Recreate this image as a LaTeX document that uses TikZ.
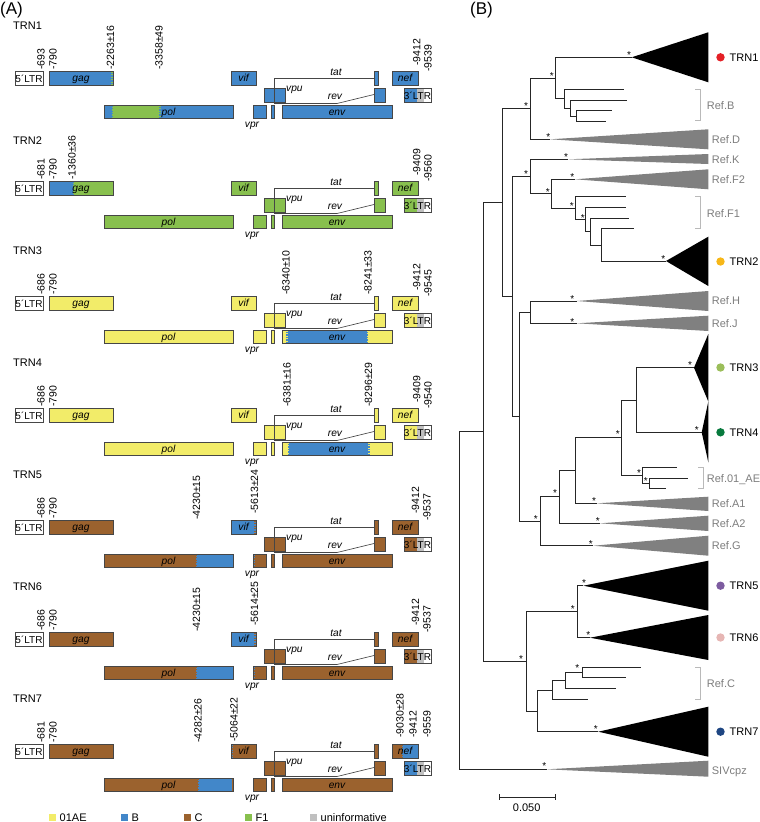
\documentclass[tikz,border=0pt]{standalone}
\usepackage{fontspec}
\setmainfont{Liberation Sans}
\usetikzlibrary{calc}
\definecolor{cY}{RGB}{242,236,105}
\definecolor{cB}{RGB}{66,135,201}
\definecolor{cC}{RGB}{155,98,46}
\definecolor{cF}{RGB}{136,192,78}
\definecolor{cU}{RGB}{192,192,192}
\definecolor{bd}{RGB}{70,70,70}
\definecolor{rg}{RGB}{125,125,125}
\definecolor{tg}{RGB}{128,128,128}
\definecolor{brk}{RGB}{185,185,185}
\definecolor{d1}{RGB}{228,32,38}
\definecolor{d2}{RGB}{247,183,24}
\definecolor{d3}{RGB}{155,190,90}
\definecolor{d4}{RGB}{8,122,62}
\definecolor{d5}{RGB}{125,92,160}
\definecolor{d6}{RGB}{230,182,180}
\definecolor{d7}{RGB}{30,70,130}
\tikzset{
 bx/.style={draw=bd, line width=0.65pt},
 ln/.style={draw=bd, line width=0.65pt},
 gl/.style={font=\fontsize{10.2}{11}\selectfont\itshape, inner sep=0, anchor=base},
 lt/.style={font=\fontsize{10}{11}\selectfont, inner sep=0, anchor=base},
 numlab/.style={rotate=90, anchor=west, inner sep=0, font=\fontsize{10.5}{11}\selectfont},
 trn/.style={font=\fontsize{11}{12}\selectfont, inner sep=0, anchor=base west},
 br/.style={draw=black!85, line width=0.75pt},
 reftxt/.style={font=\fontsize{11}{12}\selectfont, text=rg, inner sep=0, anchor=base west},
 trntxt/.style={font=\fontsize{11}{12}\selectfont, inner sep=0, anchor=base west},
 star/.style={font=\fontsize{10}{10}\selectfont, inner sep=0},
 brack/.style={draw=brk, line width=0.8pt},
 lg/.style={font=\fontsize{11}{12}\selectfont, inner sep=0, anchor=base west}
}
\newcommand\gbase[1]{%
 \fill[#1] (49,0) rectangle (113,14);
 \fill[#1] (104,34) rectangle (233,47);
 \fill[#1] (231,0) rectangle (256,14);
 \fill[#1] (253,34) rectangle (266,47);
 \fill[#1] (271,34) rectangle (274,47);
 \fill[#1] (264,17) rectangle (285,31);
 \fill[#1] (282,34) rectangle (392,47);
 \fill[#1] (374,0) rectangle (378,14);
 \fill[#1] (374,17) rectangle (385,31);
 \fill[#1] (392,0) rectangle (418,14);
 \fill[#1] (404,17) rectangle (417,31);
 \fill[cU] (417,17) rectangle (424,31);}
\newcommand\gframe[1]{%
 \draw[bx] (15,0) rectangle (43,14);
 \draw[bx] (49,0) rectangle (113,14);
 \draw[bx] (104,34) rectangle (233,47);
 \draw[bx] (231,0) rectangle (256,14);
 \draw[bx] (253,34) rectangle (266,47);
 \draw[bx] (271,34) rectangle (274,47);
 \draw[bx] (264,17) rectangle (274,31);
 \draw[bx] (274,17) rectangle (285,31);
 \draw[bx] (282,34) rectangle (392,47);
 \draw[bx] (374,0) rectangle (378,14);
 \draw[bx] (374,17) rectangle (385,31);
 \draw[bx] (392,0) rectangle (418,14);
 \draw[bx] (404,17) rectangle (431,31);
 \draw[ln] (274,17) -- (274,7) -- (374,7);
 \draw[ln] (274,32.5) -- (337,32.5) -- (374,23.5);
 \node[lt] (#1l5) at (29,11.3) {5´LTR};
 \node[lt] (#1l3) at (417.5,28.2) {3´LTR};
 \node[gl] (#1gag) at (81,10.3) {gag};
 \node[gl] (#1pol) at (168.5,44.3) {pol};
 \node[gl] (#1vif) at (243.5,10.8) {vif};
 \node[gl] (#1env) at (337,44.3) {env};
 \node[gl] (#1nef) at (405,10.8) {nef};
 \node[gl] (#1tat) at (336,4.6) {tat};
 \node[gl] (#1rev) at (335,28.6) {rev};
 \node[gl, anchor=base west] (#1vpu) at (286,20.3) {vpu};
 \node[gl] (#1vpr) at (252,56.3) {vpr};}
\newcommand\bnd[4]{\draw[#4, line width=1.5pt, dash pattern=on 1.2pt off 1.3pt] (#1,#2) -- (#1,#3);}
\newcommand\nl[3]{\node[numlab] at (#1,#2) {-#3};}
\newcommand\tri[4]{\fill[#1] (#2) -- (708.3,#3) -- (708.3,#4) -- cycle;}
\begin{document}
\begin{tikzpicture}[x=1pt,y=-1pt]
\useasboundingbox (0,0) rectangle (760,822);
\node[font=\fontsize{17}{18}\selectfont, inner sep=0, anchor=base west] (pA) at (0,14.7) {(A)};
\node[font=\fontsize{17}{18}\selectfont, inner sep=0, anchor=base west] (pB) at (470,14) {(B)};
% ---------- TRN1
\begin{scope}[shift={(0,71)}]
 \gbase{cB}
 \fill[cF] (111.5,34) rectangle (159,47);
 \bnd{112.2}{0.5}{13.5}{cF}
 \bnd{112.2}{34.5}{46.5}{cB}
 \bnd{159.8}{34.5}{46.5}{cF}
 \gframe{a}
 \node[trn] (t1) at (13,-41.7) {TRN1};
 \nl{41}{-1}{693} \nl{53}{-1}{790} \nl{110.5}{-1}{2263±16} \nl{159}{-1}{3358±49}
 \nl{416.7}{-5}{9412} \nl{428}{1}{9539}
\end{scope}
% ---------- TRN2
\begin{scope}[shift={(0,181)}]
 \gbase{cF}
 \fill[cB] (49,0) rectangle (73,14);
 \bnd{73.6}{0.5}{13.5}{cB}
 \gframe{b}
 \node[trn] (t2) at (13,-37) {TRN2};
 \nl{41}{-1}{681} \nl{53}{-1}{790} \nl{72}{-1}{1360±36}
 \nl{416.7}{-5}{9409} \nl{428}{1}{9560}
\end{scope}
% ---------- TRN3
\begin{scope}[shift={(0,296)}]
 \gbase{cY}
 \fill[cB] (286,34) rectangle (368,47);
 \bnd{286.8}{34.5}{46.5}{cY}
 \bnd{367.4}{34.5}{46.5}{cY}
 \gframe{c}
 \node[trn] (t3) at (13,-41.7) {TRN3};
 \nl{41}{-1}{686} \nl{53}{-1}{790} \nl{286}{-1}{6340±10} \nl{368}{-1}{8241±33}
 \nl{416.7}{-5}{9412} \nl{428}{1}{9545}
\end{scope}
% ---------- TRN4
\begin{scope}[shift={(0,408)}]
 \gbase{cY}
 \fill[cB] (287.5,34) rectangle (369.5,47);
 \bnd{288.3}{34.5}{46.5}{cY}
 \bnd{368.9}{34.5}{46.5}{cY}
 \gframe{d}
 \node[trn] (t4) at (13,-41.7) {TRN4};
 \nl{41}{-1}{686} \nl{53}{-1}{790} \nl{287}{-1}{6381±16} \nl{368.5}{-1}{8296±29}
 \nl{416.7}{-5}{9409} \nl{428}{1}{9540}
\end{scope}
% ---------- TRN5
\begin{scope}[shift={(0,520)}]
 \gbase{cC}
 \fill[cB] (195.5,34) rectangle (233,47);
 \fill[cB] (231,0) rectangle (256,14);
 \bnd{196.2}{34.5}{46.5}{cC}
 \bnd{254.6}{34.5}{46.5}{cB}
 \bnd{255}{0.5}{13.5}{cC}
 \gframe{e}
 \node[trn] (t5) at (13,-41.7) {TRN5};
 \nl{41}{-1}{686} \nl{53}{-1}{790} \nl{196.5}{0}{4230±15} \nl{254.5}{-6}{5613±24}
 \nl{415.5}{-6}{9412} \nl{427}{1}{9537}
\end{scope}
% ---------- TRN6
\begin{scope}[shift={(0,632)}]
 \gbase{cC}
 \fill[cB] (195.5,34) rectangle (233,47);
 \fill[cB] (231,0) rectangle (256,14);
 \bnd{196.2}{34.5}{46.5}{cC}
 \bnd{254.6}{34.5}{46.5}{cB}
 \bnd{255}{0.5}{13.5}{cC}
 \gframe{f}
 \node[trn] (t6) at (13,-41.7) {TRN6};
 \nl{41}{-1}{686} \nl{53}{-1}{790} \nl{196.5}{0}{4230±15} \nl{254.5}{-6}{5614±25}
 \nl{415.5}{-6}{9412} \nl{427}{1}{9537}
\end{scope}
% ---------- TRN7
\begin{scope}[shift={(0,744)}]
 \gbase{cC}
 \fill[cB] (198,34) rectangle (232,47);
 \fill[cB] (401.7,0) rectangle (418,14);
 \fill[cB] (404,17) rectangle (417,31);
 \bnd{198.7}{34.5}{46.5}{cC}
 \bnd{231.4}{34.5}{46.5}{cB}
 \bnd{232}{0.5}{13.5}{cB}
 \bnd{402.4}{0.5}{13.5}{cC}
 \gframe{g}
 \node[trn] (t7) at (13,-41.7) {TRN7};
 \nl{41}{-1}{681} \nl{53}{-1}{790} \nl{198}{-1}{4282±26} \nl{234}{-2}{5064±22}
 \nl{400}{-6}{9030±28} \nl{413}{-6}{9412} \nl{427}{-6}{9559}
\end{scope}
% ---------- legend
\foreach \c/\x/\t [count=\i] in {cY/49/01AE, cB/121/B, cC/184/C, cF/245/F1, cU/310/uninformative}{
 \fill[\c] (\x,814) rectangle ++(6.5,6.5);
 \node[lg] (lg\i) at (\x+10.5,821) {\t};
}
% ---------- tree coordinates
\coordinate (root) at (459.3,600.5);
\coordinate (nA) at (483.3,431.6);
\coordinate (nB) at (502.7,202.5);
\coordinate (nBD) at (530.7,108.3);
\coordinate (nB1) at (555.3,78.5);
\coordinate (r1) at (564,98.4);
\coordinate (r2) at (570.7,108);
\coordinate (r3) at (576.7,116);
\coordinate (n2) at (512.7,296.6);
\coordinate (nKF) at (530.7,176.5);
\coordinate (nF) at (551.7,193.7);
\coordinate (f1) at (575,208.1);
\coordinate (f2) at (585.7,219.5);
\coordinate (f3) at (590.7,231.6);
\coordinate (f4) at (601,244.9);
\coordinate (n3) at (519.3,416.7);
\coordinate (nHJ) at (530,312.2);
\coordinate (nG) at (540,521.2);
\coordinate (nA2) at (559.3,496.8);
\coordinate (nA1) at (575,470.4);
\coordinate (nAE) at (621.7,437.4);
\coordinate (n34) at (636,400);
\coordinate (e1) at (642.3,475.2);
\coordinate (e2) at (649.3,483.3);
\coordinate (nC) at (526.7,661.1);
\coordinate (n56) at (577.3,611.7);
\coordinate (nCC) at (537.7,710.9);
\coordinate (c1) at (552.3,690);
\coordinate (c2) at (565,680.3);
\coordinate (c3) at (582.7,672.4);
\coordinate (aT1) at (631.7,57.3);
\coordinate (aD) at (550,139.3);
\coordinate (aK) at (568.3,159.3);
\coordinate (aF2) at (575,179.3);
\coordinate (aT2) at (666,261);
\coordinate (aH) at (576.7,301);
\coordinate (aJ) at (576.7,323.3);
\coordinate (aT3) at (694,367.7);
\coordinate (aT4) at (701.7,432.3);
\coordinate (aA1) at (596.7,503.3);
\coordinate (aA2) at (600,523.3);
\coordinate (aG) at (593.3,545.7);
\coordinate (aT5) at (583.3,585.7);
\coordinate (aT6) at (590,637.7);
\coordinate (aT7) at (598.3,731.7);
\coordinate (aS) at (546.7,769.3);
\coordinate (lB1) at (624,89.3);
\coordinate (lB2) at (626.7,100);
\coordinate (lB3) at (611.7,110.7);
\coordinate (lB4) at (605.7,121.3);
\coordinate (lF1) at (625.7,196.7);
\coordinate (lF2) at (625.7,207.3);
\coordinate (lF3) at (629,218.3);
\coordinate (lF4) at (634.3,228.7);
\coordinate (lE1) at (676.7,467.3);
\coordinate (lE2) at (687.7,478.3);
\coordinate (lE3) at (666,488.3);
\coordinate (lC1) at (640.7,667);
\coordinate (lC2) at (625.7,677.7);
\coordinate (lC3) at (615.7,688.3);
\coordinate (lC4) at (587.7,699.3);
% branches
\foreach \p/\c in {root/nA, root/aS, nA/nB, nA/nC, nB/nBD, nB/n2, nBD/nB1, nBD/aD,
 nB1/aT1, nB1/r1, r1/lB1, r1/r2, r2/lB2, r2/r3, r3/lB3, r3/lB4, n2/nKF, n2/n3,
 nKF/aK, nKF/nF, nF/aF2, nF/f1, f1/lF1, f1/f2, f2/lF2, f2/f3, f3/lF3, f3/f4,
 f4/lF4, f4/aT2, n3/nHJ, n3/nG, nHJ/aH, nHJ/aJ, nG/nA2, nG/aG, nA2/nA1, nA2/aA2,
 nA1/nAE, nA1/aA1, nAE/n34, nAE/e1, n34/aT3, n34/aT4, e1/lE1, e1/e2, e2/lE2, e2/lE3,
 nC/n56, nC/nCC, n56/aT5, n56/aT6, nCC/c1, nCC/aT7, c1/c2, c1/lC4, c2/c3, c2/lC3,
 c3/lC1, c3/lC2}
 \draw[br] (\p) |- (\c);
% triangles
\tri{black}{aT1}{32.3}{82.3}
\tri{tg}{aD}{129.3}{149.3}
\tri{tg}{aK}{154}{164}
\tri{tg}{aF2}{169.3}{189.3}
\tri{black}{aT2}{236.7}{286}
\tri{tg}{aH}{291}{311}
\tri{tg}{aJ}{315.7}{331}
\tri{black}{aT3}{334}{401.5}
\tri{black}{aT4}{401.5}{462.3}
\tri{tg}{aA1}{496.7}{511}
\tri{tg}{aA2}{515.7}{531}
\tri{tg}{aG}{535.7}{555.7}
\tri{black}{aT5}{560.7}{610.7}
\tri{black}{aT6}{615}{660}
\tri{black}{aT7}{706.7}{756.7}
\tri{tg}{aS}{760.7}{776.7}
% brackets
\draw[brack] (695,89.3) -- (700,89.3) -- (700,120.7) -- (695,120.7);
\draw[brack] (695,196.7) -- (700,196.7) -- (700,228.7) -- (695,228.7);
\draw[brack] (698,467.3) -- (703,467.3) -- (703,488.3) -- (698,488.3);
\draw[brack] (695,667) -- (700,667) -- (700,699.3) -- (695,699.3);
% ref labels
\node[reftxt] (tB) at (706.7,109.8) {Ref.B};
\node[reftxt] (tD) at (711.7,143.8) {Ref.D};
\node[reftxt] (tK) at (711.7,163) {Ref.K};
\node[reftxt] (tF2) at (711.7,183) {Ref.F2};
\node[reftxt] (tF1) at (706.7,217) {Ref.F1};
\node[reftxt] (tH) at (711.7,304.7) {Ref.H};
\node[reftxt] (tJ) at (711.7,327) {Ref.J};
\node[reftxt] (tAE) at (706.7,482) {Ref.01\_AE};
\node[reftxt] (tA1) at (711.7,507) {Ref.A1};
\node[reftxt] (tA2) at (711.7,527) {Ref.A2};
\node[reftxt] (tG) at (711.7,549.4) {Ref.G};
\node[reftxt] (tC) at (706.7,687.7) {Ref.C};
\node[reftxt] (tS) at (711.7,774.4) {SIVcpz};
% TRN dots and labels
\foreach \c/\y/\t in {d1/57.3/TRN1, d2/261.5/TRN2, d3/367.5/TRN3, d4/432.3/TRN4, d5/585.7/TRN5, d6/637.5/TRN6, d7/731.7/TRN7}{
 \fill[\c] (720.5,\y) circle (4.2);
 \node[trntxt] (L\t) at (729.5,\y+3.9) {\t};
}
% stars
\foreach \x/\y [count=\i] in {629/52.7, 551.7/74, 526/104, 548.3/135, 566/155, 526/171.7,
 572.3/175, 547.7/190, 571.7/204, 582.7/215.7, 663.3/256.7, 572.3/297.3, 572.3/320,
 690/363.3, 696.7/428.3, 617.7/431.7, 639/471, 645.7/479.3, 594/499.3, 555/490.7,
 597.7/519.3, 535.7/516.7, 590.7/541.7, 584/581, 572.7/606.7, 588.3/633.3, 521/657.3,
 577.3/666, 595.7/726.7, 544.3/764}
 \node[star] (s\i) at (\x,\y+2.2) {*};
% scale bar
\coordinate (sb1) at (499.3,797);
\coordinate (sb2) at (555,797);
\draw[br] (sb1) -- (sb2);
\draw[br] ($(sb1)+(0,-3)$) -- ($(sb1)+(0,3)$);
\draw[br] ($(sb2)+(0,-3)$) -- ($(sb2)+(0,3)$);
\node[font=\fontsize{11}{12}\selectfont, inner sep=0, anchor=base] (sbt) at (526.7,811) {0.050};
\end{tikzpicture}
\end{document}
